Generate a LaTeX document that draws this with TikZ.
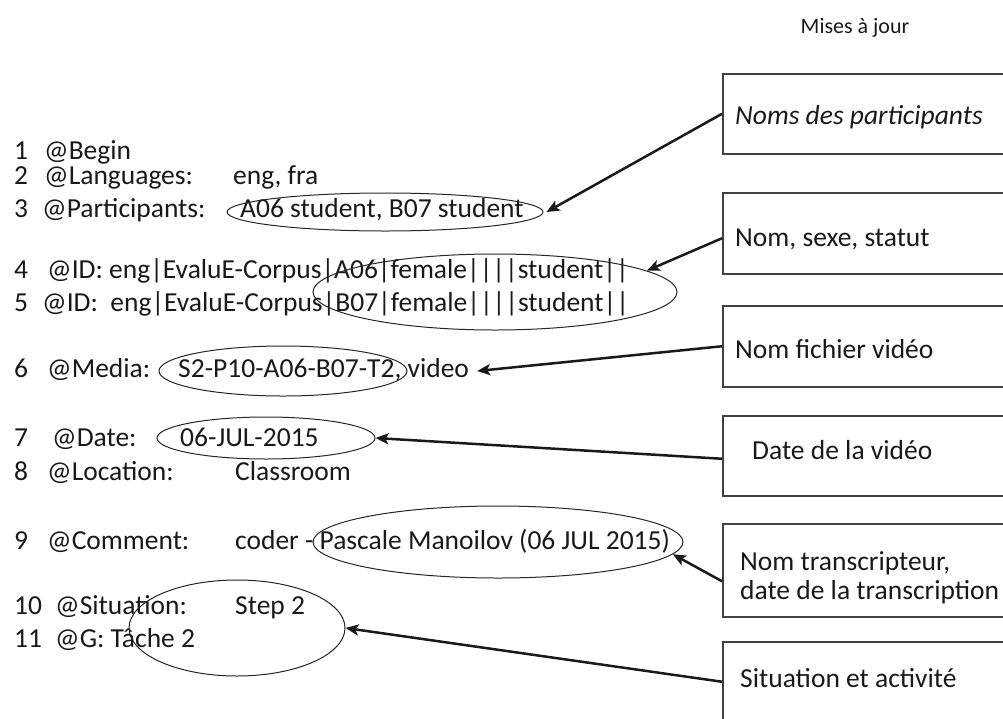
\documentclass[tikz,border=0pt]{standalone}
\usepackage{fontspec}
\setmainfont{Carlito}
\usetikzlibrary{shapes.geometric,arrows.meta}

\tikzset{
  txt/.style={anchor=west, inner sep=0pt, text height=18pt, text depth=5pt,
    text=black!90, font=\fontsize{27.5}{32}\selectfont},
  oval/.style={draw=black!85, ellipse, line width=1pt, inner sep=0pt},
  box/.style={draw=black!75, line width=1.5pt, anchor=north west,
    minimum width=320pt, inner sep=0pt},
  arr/.style={draw=black!90, line width=2.5pt, -{Stealth[length=13pt,width=11pt,inset=3pt]}},
}

\begin{document}
\begin{tikzpicture}[x=1pt,y=-1pt]
    \useasboundingbox (0,0) rectangle (1003,718);
    \clip (0,0) rectangle (1003,718);

    % line numbers
    \foreach \n/\y in {1/153,2/178,3/211,4/272,5/305,6/371,7/440,8/474,9/543,10/608,11/641}
        \node[txt] (n\n) at (14,\y) {\n};

    % header lines
    \node[txt] (k1) at (44,153) {@Begin};
    \node[txt] (k2) at (44,178) {@Languages:};
    \node[txt] (v2) at (233,178) {eng, fra};
    \node[txt] (k3) at (42,211) {@Participants:};
    \node[txt] (v3) at (240,211) {A06 student, B07 student};
    \node[txt] (k4) at (47,272) {@ID: eng|EvaluE-Corpus|A06|female||||student||};
    \node[txt] (k5) at (42,305) {@ID:\ \ eng|EvaluE-Corpus|B07|female||||student||};
    \node[txt] (k6) at (47,371) {@Media:};
    \node[txt] (v6) at (178,371) {S2-P10-A06-B07-T2, video};
    \node[txt] (k7) at (52,440) {@Date:};
    \node[txt] (v7) at (180,440) {06-JUL-2015};
    \node[txt] (k8) at (47,474) {@Location:};
    \node[txt] (v8) at (235,474) {Classroom};
    \node[txt] (k9) at (47,543) {@Comment:};
    \node[txt] (v9) at (235,543) {coder - Pascale Manoilov (06 JUL 2015)};
    \node[txt] (k10) at (55,608) {@Situation:};
    \node[txt] (v10) at (235,608) {Step 2};
    \node[txt] (k11) at (55,641) {@G: Tâche 2};

    % ovals
    \node[oval, minimum width=316pt, minimum height=38pt] (e1) at (385,212) {};
    \node[oval, minimum width=364pt, minimum height=76pt] (e2) at (495,292) {};
    \node[oval, minimum width=248pt, minimum height=50pt] (e3) at (283,371) {};
    \node[oval, minimum width=218pt, minimum height=42pt] (e4) at (266,438) {};
    \node[oval, minimum width=370pt, minimum height=72pt] (e5) at (498,542) {};
    \node[oval, minimum width=216pt, minimum height=96pt] (e6) at (237,628) {};

    % title and boxes
    \node[txt, anchor=center, font=\fontsize{22}{26}\selectfont] (maj) at (855,27) {Mises à jour};

    \node[box, minimum height=80pt] (b1) at (722,73) {};
    \node[box, minimum height=81pt] (b2) at (722,192) {};
    \node[box, minimum height=81pt] (b3) at (722,305) {};
    \node[box, minimum height=80pt] (b4) at (722,415) {};
    \node[box, minimum height=93pt] (b5) at (722,523) {};
    \node[box, minimum height=80pt] (b6) at (722,641) {};

    \node[txt, font=\fontsize{27.5}{32}\selectfont\itshape] (t1) at (735,118) {Noms des participants};
    \node[txt] (t2) at (735,240) {Nom, sexe, statut};
    \node[txt] (t3) at (735,352) {Nom fichier vidéo};
    \node[txt] (t4) at (752,453) {Date de la vidéo};
    \node[txt] (t5a) at (740,564) {Nom transcripteur,};
    \node[txt] (t5b) at (740,593) {date de la transcription};
    \node[txt] (t6) at (740,681) {Situation et activité};

    % arrows
    \draw[arr] (b1.west) -- ([xshift=3pt]e1.east);
    \draw[arr] ([yshift=-5pt]b2.west) -- (e2.8);
    \draw[arr] (b3.west) -- ([xshift=8pt]v6.east);
    \draw[arr] ([yshift=-3pt]b4.west) -- (e4.east);
    \draw[arr] ([yshift=-11pt]b5.west) -- (e5.-4);
    \draw[arr] (b6.west) -- (e6.east);
\end{tikzpicture}
\end{document}
